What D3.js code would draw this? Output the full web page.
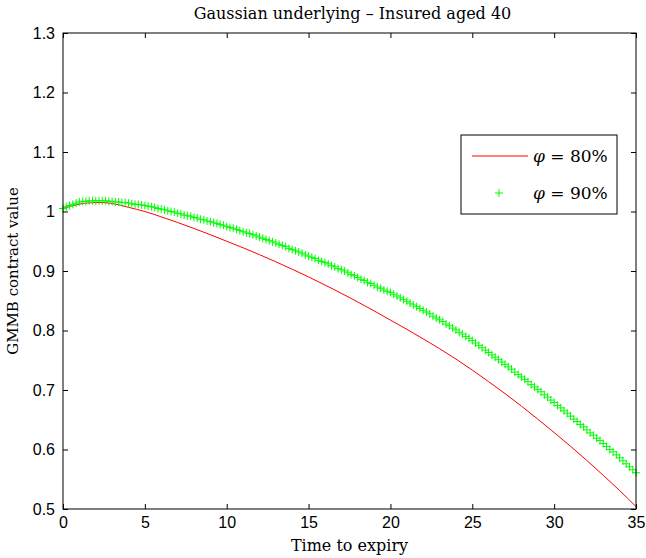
<!DOCTYPE html>
<meta charset="utf-8">
<script src="https://d3js.org/d3.v7.js"></script>
<style>
  body { margin: 0; background: #fff; }
  .tick text { font-family: "Liberation Sans", Arial, sans-serif; font-size: 16px; fill: #000; }
  .serif { font-family: "DejaVu Serif", "Liberation Serif", serif; }
</style>
<div id="chart"></div>

<script>

// x positions (time to expiry) for the phi = 90% markers, step 0.2
var timesGreen = [
  0, 0.2, 0.4, 0.6, 0.8, 1, 1.2, 1.4, 1.6, 1.8, 2, 2.2, 2.4, 2.6, 2.8, 3, 3.2, 3.4, 3.6, 3.8,
  4, 4.2, 4.4, 4.6, 4.8, 5, 5.2, 5.4, 5.6, 5.8, 6, 6.2, 6.4, 6.6, 6.8, 7, 7.2, 7.4, 7.6, 7.8,
  8, 8.2, 8.4, 8.6, 8.8, 9, 9.2, 9.4, 9.6, 9.8, 10, 10.2, 10.4, 10.6, 10.8, 11, 11.2, 11.4, 11.6, 11.8,
  12, 12.2, 12.4, 12.6, 12.8, 13, 13.2, 13.4, 13.6, 13.8, 14, 14.2, 14.4, 14.6, 14.8, 15, 15.2, 15.4, 15.6, 15.8,
  16, 16.2, 16.4, 16.6, 16.8, 17, 17.2, 17.4, 17.6, 17.8, 18, 18.2, 18.4, 18.6, 18.8, 19, 19.2, 19.4, 19.6, 19.8,
  20, 20.2, 20.4, 20.6, 20.8, 21, 21.2, 21.4, 21.6, 21.8, 22, 22.2, 22.4, 22.6, 22.8, 23, 23.2, 23.4, 23.6, 23.8,
  24, 24.2, 24.4, 24.6, 24.8, 25, 25.2, 25.4, 25.6, 25.8, 26, 26.2, 26.4, 26.6, 26.8, 27, 27.2, 27.4, 27.6, 27.8,
  28, 28.2, 28.4, 28.6, 28.8, 29, 29.2, 29.4, 29.6, 29.8, 30, 30.2, 30.4, 30.6, 30.8, 31, 31.2, 31.4, 31.6, 31.8,
  32, 32.2, 32.4, 32.6, 32.8, 33, 33.2, 33.4, 33.6, 33.8, 34, 34.2, 34.4, 34.6, 34.8, 35
];

var phi90 = [
  1.005, 1.008, 1.010, 1.012, 1.014, 1.016, 1.017, 1.017, 1.018, 1.018, 1.018, 1.018, 1.018, 1.018, 1.017, 1.017, 1.016, 1.016, 1.015, 1.015,
  1.014, 1.013, 1.012, 1.012, 1.011, 1.010, 1.009, 1.008, 1.007, 1.005, 1.004, 1.003, 1.001, 1.000, 0.999, 0.997, 0.996, 0.994, 0.993, 0.992,
  0.990, 0.989, 0.987, 0.986, 0.984, 0.983, 0.981, 0.980, 0.978, 0.977, 0.975, 0.973, 0.972, 0.970, 0.968, 0.966, 0.964, 0.963, 0.961, 0.959,
  0.957, 0.955, 0.953, 0.951, 0.949, 0.947, 0.945, 0.943, 0.941, 0.938, 0.936, 0.934, 0.932, 0.930, 0.927, 0.925, 0.923, 0.921, 0.918, 0.916,
  0.914, 0.912, 0.909, 0.907, 0.904, 0.902, 0.900, 0.897, 0.894, 0.892, 0.889, 0.886, 0.884, 0.881, 0.879, 0.876, 0.873, 0.871, 0.868, 0.866,
  0.864, 0.861, 0.858, 0.855, 0.852, 0.849, 0.846, 0.843, 0.840, 0.837, 0.834, 0.831, 0.828, 0.824, 0.821, 0.818, 0.815, 0.811, 0.808, 0.804,
  0.801, 0.797, 0.794, 0.790, 0.787, 0.783, 0.779, 0.775, 0.771, 0.767, 0.763, 0.759, 0.755, 0.751, 0.747, 0.743, 0.739, 0.735, 0.730, 0.726,
  0.722, 0.718, 0.714, 0.709, 0.705, 0.701, 0.697, 0.692, 0.688, 0.683, 0.679, 0.674, 0.670, 0.665, 0.661, 0.656, 0.651, 0.647, 0.642, 0.638,
  0.633, 0.628, 0.624, 0.619, 0.615, 0.610, 0.605, 0.600, 0.596, 0.591, 0.586, 0.581, 0.576, 0.571, 0.566, 0.561
];

// phi = 80% line, yearly
var timesRed = [
  0, 1, 2, 3, 4, 5, 6, 7, 8, 9, 10, 11, 12, 13, 14, 15, 16, 17,
  18, 19, 20, 21, 22, 23, 24, 25, 26, 27, 28, 29, 30, 31, 32, 33, 34, 35
];

var phi80 = [
  1.005, 1.0125, 1.015, 1.0135, 1.007, 1.000, 0.991, 0.9815, 0.9715, 0.961, 0.950, 0.939, 0.9275, 0.9155, 0.903, 0.890, 0.8765, 0.8625,
  0.848, 0.833, 0.8175, 0.802, 0.786, 0.7695, 0.752, 0.7335, 0.714, 0.694, 0.673, 0.651, 0.6285, 0.6055, 0.5815, 0.5565, 0.531, 0.504
];

var xTicks = [0, 5, 10, 15, 20, 25, 30, 35];
var yTicks = [0.5, 0.6, 0.7, 0.8, 0.9, 1, 1.1, 1.2, 1.3];

var legendLabels = ["80%", "90%"];

var margin = {top: 33, right: 10, bottom: 49, left: 63},
    width = 646 - margin.left - margin.right,
    height = 558 - margin.top - margin.bottom;

var svg = d3.select("#chart")
  .append("svg")
    .attr("width", 646)
    .attr("height", 558)
  .append("g")
    .attr("transform", "translate(" + margin.left + "," + margin.top + ")");

var x = d3.scaleLinear().domain([0, 35]).range([0, width]);
var y = d3.scaleLinear().domain([0.5, 1.3]).range([height, 0]);

svg.append("clipPath").attr("id", "clip")
  .append("rect").attr("width", width).attr("height", height);

// red line
var redData = timesRed.map(function(t, i) { return {t: t, v: phi80[i]}; });
svg.append("path")
  .datum(redData)
  .attr("clip-path", "url(#clip)")
  .attr("fill", "none")
  .attr("stroke", "#ff0000")
  .attr("stroke-width", 1)
  .attr("d", d3.line()
    .curve(d3.curveNatural)
    .x(function(d) { return x(d.t); })
    .y(function(d) { return y(d.v); }));

// green plus markers
var plus = "M-4,0H4M0,-4V4";
var greenData = timesGreen.map(function(t, i) { return {t: t, v: phi90[i]}; });
svg.append("g")
  .selectAll("path")
  .data(greenData)
  .enter()
  .append("path")
    .attr("transform", function(d) { return "translate(" + x(d.t) + "," + y(d.v) + ")"; })
    .attr("d", plus)
    .attr("stroke", "#00ff00")
    .attr("stroke-width", 1)
    .attr("fill", "none");

// axes (box with inward ticks)
svg.append("g")
  .attr("transform", "translate(0," + height + ")")
  .call(d3.axisBottom(x).tickValues(xTicks).tickSizeInner(-5).tickSizeOuter(0).tickPadding(8))
  .call(function(g) { g.select(".domain").remove(); });

svg.append("g")
  .call(d3.axisTop(x).tickValues(xTicks).tickSizeInner(-5).tickSizeOuter(0).tickFormat(""))
  .call(function(g) { g.select(".domain").remove(); });

svg.append("g")
  .call(d3.axisLeft(y).tickValues(yTicks).tickSizeInner(-5).tickSizeOuter(0).tickPadding(8)
    .tickFormat(function(d) { return d3.format("")(+d.toFixed(1)); }))
  .call(function(g) { g.select(".domain").remove(); });

svg.append("g")
  .attr("transform", "translate(" + width + ",0)")
  .call(d3.axisRight(y).tickValues(yTicks).tickSizeInner(-5).tickSizeOuter(0).tickFormat(""))
  .call(function(g) { g.select(".domain").remove(); });

svg.selectAll(".tick line").attr("stroke", "#000");

svg.append("rect")
  .attr("width", width)
  .attr("height", height)
  .attr("fill", "none")
  .attr("stroke", "#000")
  .attr("stroke-width", 1);

// title and axis labels
svg.append("text")
  .attr("class", "serif")
  .attr("x", width / 2 + 3)
  .attr("y", -14)
  .attr("text-anchor", "middle")
  .style("font-size", "16px")
  .text("Gaussian underlying \u2013 Insured aged 40");

svg.append("text")
  .attr("class", "serif")
  .attr("x", width / 2)
  .attr("y", height + 42)
  .attr("text-anchor", "middle")
  .style("font-size", "16px")
  .text("Time to expiry");

svg.append("text")
  .attr("class", "serif")
  .attr("transform", "translate(" + (-45) + "," + (height / 2) + ") rotate(-90)")
  .attr("text-anchor", "middle")
  .style("font-size", "15px")
  .text("GMMB contract value");

// legend
var legend = svg.append("g")
  .attr("transform", "translate(" + (461 - margin.left) + "," + (135 - margin.top) + ")");

legend.append("rect")
  .attr("width", 156)
  .attr("height", 79)
  .attr("fill", "#fff")
  .attr("stroke", "#000")
  .attr("stroke-width", 1);

legend.append("line")
  .attr("x1", 11).attr("x2", 67)
  .attr("y1", 21).attr("y2", 21)
  .attr("stroke", "#ff0000");

legend.append("path")
  .attr("transform", "translate(38,58)")
  .attr("d", plus)
  .attr("stroke", "#00ff00")
  .attr("fill", "none");

var labs = legend.selectAll("text.lab")
  .data(legendLabels)
  .enter()
  .append("text")
    .attr("class", "lab serif")
    .attr("x", 72)
    .attr("y", function(d, i) { return 27 + i * 37; })
    .style("font-size", "17px");

labs.append("tspan").style("font-style", "italic").text("\u03C6");
labs.append("tspan").text(function(d) { return " = " + d; });

</script>
